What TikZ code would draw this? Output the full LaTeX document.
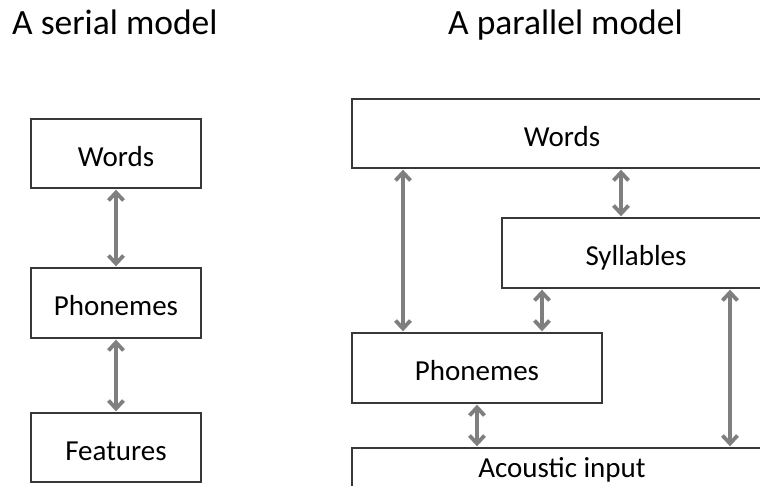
\documentclass[tikz,border=0pt]{standalone}
\usepackage{fontspec}
\setmainfont{Carlito}
\usetikzlibrary{arrows.meta}
\definecolor{arrgray}{HTML}{7F7F7F}
\definecolor{boxline}{HTML}{383838}
\begin{document}
\begin{tikzpicture}[x=1pt,y=-1pt,
  box/.style={draw=boxline,line width=1.4pt,rectangle,inner sep=0pt,
    font=\fontsize{29}{32}\selectfont,text=black,text height=25pt,text depth=0pt},
  title/.style={anchor=base west,inner sep=0pt,font=\fontsize{35.5}{40}\selectfont},
  arr/.style={draw=arrgray,line width=3.8pt,
    {Straight Barb[length=8pt,width=15pt]}-{Straight Barb[length=8pt,width=15pt]},
    shorten <=1pt,shorten >=1pt}]
\useasboundingbox (0,0) rectangle (760,485);
\clip (0,0) rectangle (760,485);
\fill[white] (0,0) rectangle (760,485);
% titles
\node[title] (t1) at (12,34.5) {A serial model};
\node[title] (t2) at (448,34.5) {A parallel model};
% serial model
\node[box,minimum width=170pt,minimum height=69pt] (sw) at (116,153.5) {Words};
\node[box,minimum width=170pt,minimum height=70pt] (sp) at (116,303) {Phonemes};
\node[box,minimum width=170pt,minimum height=69pt] (sf) at (116,447.5) {Features};
\draw[arr] (sw.south) -- (sp.north);
\draw[arr] (sp.south) -- (sf.north);
% parallel model
\node[box,minimum width=420pt,minimum height=69pt] (pw) at (562,133.5) {Words};
\node[box,minimum width=268pt,minimum height=70pt] (ps) at (636,253) {Syllables};
\node[box,minimum width=250pt,minimum height=70pt] (pp) at (477,368) {Phonemes};
\node[box,minimum width=420pt,minimum height=72pt,text height=5pt,text depth=19pt] (pa) at (562,484) {Acoustic input};
\draw[arr] (pw.south -| 403,0) -- (pp.north -| 403,0);
\draw[arr] (pw.south -| 621,0) -- (ps.north -| 621,0);
\draw[arr] (ps.south -| 542,0) -- (pp.north -| 542,0);
\draw[arr] (pp.south) -- (pa.north -| pp.south);
\draw[arr] (ps.south -| 730,0) -- (pa.north -| 730,0);
\end{tikzpicture}
\end{document}
